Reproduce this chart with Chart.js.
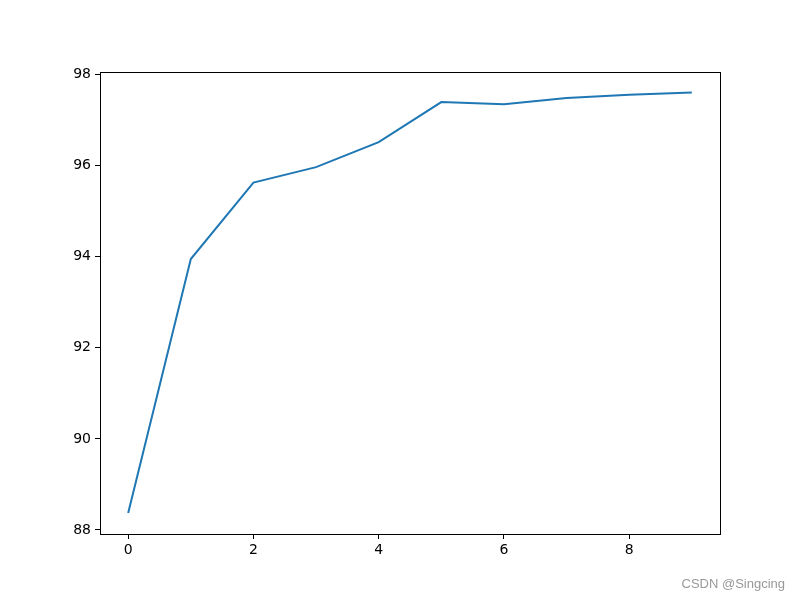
<!DOCTYPE html>
<html>
<head>
<meta charset="utf-8">
<script src="https://cdn.jsdelivr.net/npm/chart.js@4/dist/chart.umd.min.js"></script>
<style>
    body { margin: 0; background: #fff; }
</style>
</head>
<body>
<canvas id="accChart" width="800" height="600"></canvas>
<script>
    const epochs = [0, 1, 2, 3, 4, 5, 6, 7, 8, 9];
    const accuracy = [88.37, 93.95, 95.63, 95.97, 96.52, 97.40, 97.35, 97.49, 97.56, 97.61];
    const xTicks = [0, 2, 4, 6, 8];
    const yTicks = [88, 90, 92, 94, 96, 98];

    const ctx = document.getElementById('accChart').getContext('2d');

    // box around the plot + watermark, like the matplotlib figure
    const framePlugin = {
        id: 'frame',
        afterDraw(chart) {
            const a = chart.chartArea;
            const c = chart.ctx;
            c.save();
            c.strokeStyle = '#000';
            c.lineWidth = 1;
            c.strokeRect(Math.round(a.left) + 0.5, Math.round(a.top) + 0.5,
                Math.round(a.right - a.left), Math.round(a.bottom - a.top));
            c.fillStyle = '#999';
            c.font = '13px "Liberation Sans", Arial, sans-serif';
            c.textAlign = 'right';
            c.textBaseline = 'alphabetic';
            c.fillText('CSDN @Singcing', 785, 588);
            c.restore();
        }
    };

    const tickFont = { family: '"DejaVu Sans", sans-serif', size: 14 };

    new Chart(ctx, {
        type: 'line',
        data: {
            datasets: [{
                data: epochs.map((e, i) => ({ x: e, y: accuracy[i] })),
                borderColor: '#1f77b4',
                borderWidth: 2,
                pointRadius: 0,
                tension: 0,
                fill: false
            }]
        },
        options: {
            responsive: false,
            animation: false,
            layout: { padding: { left: 0, top: 72, right: 80, bottom: 0 } },
            scales: {
                x: {
                    type: 'linear',
                    min: -0.45,
                    max: 9.45,
                    afterBuildTicks: scale => { scale.ticks = xTicks.map(v => ({ value: v })); },
                    afterFit: scale => { scale.height = 66; },
                    grid: { drawOnChartArea: false, drawTicks: true, tickLength: 5, color: '#000', tickWidth: 1 },
                    border: { display: false },
                    ticks: { color: '#000', font: tickFont, padding: 3, maxRotation: 0 }
                },
                y: {
                    type: 'linear',
                    min: 87.91,
                    max: 98.06,
                    afterBuildTicks: scale => { scale.ticks = yTicks.map(v => ({ value: v })); },
                    afterFit: scale => { scale.width = 100; },
                    grid: { drawOnChartArea: false, drawTicks: true, tickLength: 5, color: '#000', tickWidth: 1 },
                    border: { display: false },
                    ticks: { color: '#000', font: tickFont, padding: 4 }
                }
            },
            plugins: {
                legend: { display: false },
                tooltip: { enabled: false }
            }
        },
        plugins: [framePlugin]
    });
</script>
</body>
</html>
